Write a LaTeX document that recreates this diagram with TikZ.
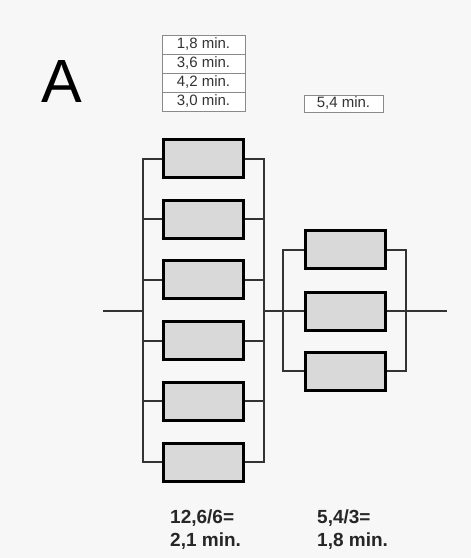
\documentclass[tikz,border=0pt]{standalone}
\usepackage{fontspec}
\setmainfont{Liberation Sans}
\definecolor{bgc}{HTML}{F6F7F6}
\definecolor{resfill}{HTML}{D9D9D9}
\definecolor{leadc}{HTML}{333333}
\definecolor{labc}{HTML}{8A8A8A}
\definecolor{txtc}{HTML}{333333}
\begin{document}
\begin{tikzpicture}[x=1pt,y=-1pt,
  res/.style={draw=black,line width=3pt,fill=resfill,minimum width=80pt,minimum height=38pt,inner sep=0pt},
  lead/.style={draw=leadc,line width=2pt},
  lab/.style={draw=labc,line width=1pt,fill=white,minimum width=83pt,minimum height=19pt,inner sep=0pt,text=txtc,font=\fontsize{15}{15}\selectfont},
  res2/.style={font=\bfseries\fontsize{19}{19}\selectfont,text=black!85,anchor=base west,inner sep=0pt}
]
\fill[bgc] (0,0) rectangle (471,558);
\useasboundingbox (0,0) rectangle (471,558);

% big letter
\node[anchor=base,inner sep=0pt,font=\fontsize{61}{61}\selectfont] (A) at (62,102) {A};

% time labels
\node[lab] (t1) at (203.5,44.5) {1,8 min.};
\node[lab] (t2) at (203.5,63.5) {3,6 min.};
\node[lab] (t3) at (203.5,82.5) {4,2 min.};
\node[lab] (t4) at (203.5,101.5) {3,0 min.};
\node[lab,minimum width=79pt,minimum height=17pt] (t5) at (343.5,103.5) {5,4 min.};

% left group resistors
\foreach \i/\y in {1/158.5,2/219.2,3/279.9,4/340.6,5/401.3,6/462}{
  \node[res] (L\i) at (203.5,\y) {};
}
\coordinate (lrail) at (143,311);
\coordinate (rrail) at (264,311);
\draw[lead] (L1.west) -| (L6.west -| lrail) -- (L6.west);
\draw[lead] (L1.east) -| (L6.east -| rrail) -- (L6.east);
\foreach \i in {2,3,4,5}{
  \draw[lead] (L\i.west) -- (L\i.west -| lrail);
  \draw[lead] (L\i.east) -- (L\i.east -| rrail);
}

% right group resistors
\foreach \i/\y in {1/249.5,2/311,3/371}{
  \node[res] (R\i) at (345,\y) {};
}
\coordinate (lrail2) at (283,311);
\coordinate (rrail2) at (406,311);
\draw[lead] (R1.west) -| (R3.west -| lrail2) -- (R3.west);
\draw[lead] (R1.east) -| (R3.east -| rrail2) -- (R3.east);

% main line
\coordinate (in) at (103,311);
\coordinate (out) at (447,311);
\draw[lead] (in) -- (lrail);
\draw[lead] (rrail) -- (R2.west);
\draw[lead] (R2.east) -- (out);

% results
\node[res2] (r1a) at (170,523) {12,6/6=};
\node[res2] (r1b) at (170,546) {2,1 min.};
\node[res2] (r2a) at (317,523) {5,4/3=};
\node[res2] (r2b) at (317,546) {1,8 min.};
\end{tikzpicture}
\end{document}
